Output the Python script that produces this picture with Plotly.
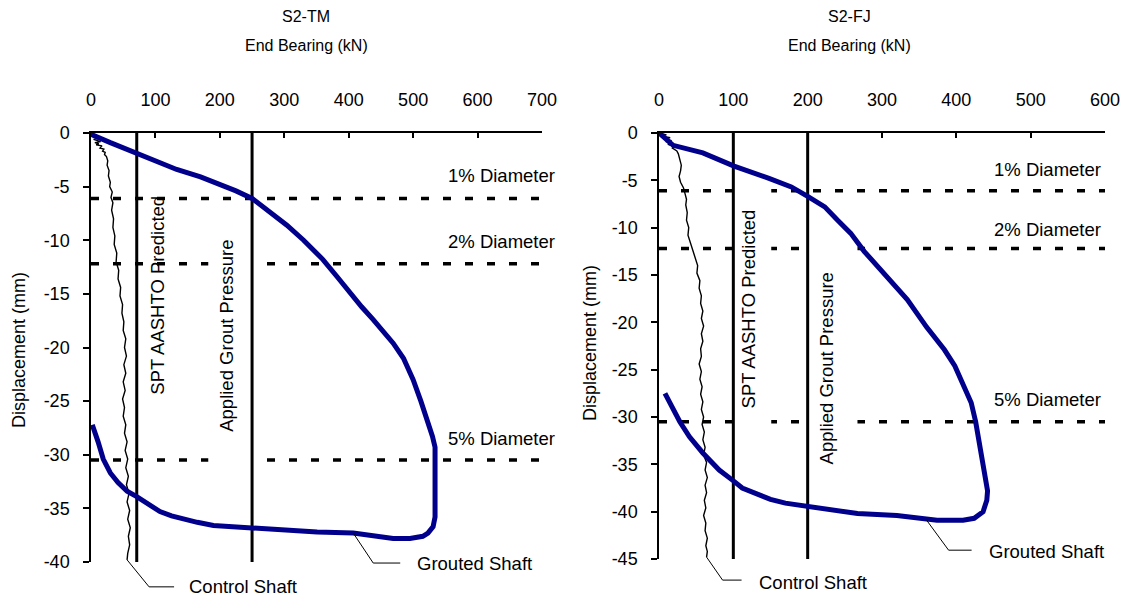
import plotly.graph_objects as go

# ---------------- data ----------------
# S2-TM (left)
tm_grout_x = [0, 3, 30, 71, 100, 133, 170, 200, 225, 250, 275, 304, 330, 360, 382, 402, 420, 438, 455, 469,
              485, 500, 512, 521, 530, 534, 534, 534, 531, 523, 515, 495, 469, 440, 407, 351, 300, 278, 250,
              220, 190, 165, 143, 125, 107, 90, 71, 56, 42, 30, 19, 11, 6, 2]
tm_grout_y = [0, -0.2, -0.9, -1.9, -2.6, -3.4, -4.1, -4.8, -5.4, -6.1, -7.3, -8.6, -10.0, -11.8, -13.4, -14.9,
              -16.2, -17.4, -18.6, -19.6, -21.0, -23.0, -25.0, -26.6, -28.3, -29.3, -32.0, -35.8, -36.7, -37.3,
              -37.6, -37.8, -37.8, -37.6, -37.3, -37.2, -37.0, -36.9, -36.8, -36.7, -36.6, -36.3, -36.0, -35.7,
              -35.3, -34.6, -33.9, -33.4, -32.6, -31.7, -30.4, -28.8, -27.9, -27.2]
tm_ctrl_x = [0, 9, 2, 13, 4, 15, 6, 12, 8, 17, 14, 20, 18, 22, 21, 24, 26, 25, 28, 27, 30, 29, 33, 31, 34, 32,
             35, 34, 37, 36, 40, 39, 43, 42, 46, 45, 49, 48, 51, 50, 54, 52, 55, 51, 54, 50, 53, 49, 52, 50, 54,
             52, 56, 53, 57, 54, 58, 55, 59, 56, 60, 57, 61, 58, 60, 57, 56]
tm_ctrl_y = [0, -0.2, -0.3, -0.5, -0.6, -0.8, -0.9, -1.0, -1.1, -1.2, -1.4, -1.5, -1.7, -1.8, -2.0, -2.2, -2.6,
             -3.0, -3.5, -4.0, -4.6, -5.0, -5.5, -6.0, -6.5, -7.2, -8.0, -8.8, -9.6, -10.4, -11.2, -12.0, -12.8,
             -13.6, -14.4, -15.2, -16.0, -16.8, -17.6, -18.4, -19.2, -20.0, -20.8, -21.6, -22.4, -23.2, -24.0,
             -24.8, -25.6, -26.4, -27.2, -28.0, -28.8, -29.6, -30.4, -31.2, -32.0, -32.8, -33.6, -34.4, -35.2,
             -36.0, -36.8, -37.6, -38.4, -39.2, -39.8]
tm_spt = 71          # SPT AASHTO predicted (kN)
tm_grout_p = 250     # applied grout pressure (kN)

# S2-FJ (right)
fj_grout_x = [0, 19, 59, 101, 148, 178, 200, 223, 240, 258, 276, 303, 334, 360, 384, 398, 409, 420, 426, 430,
              434, 438, 442, 441, 436, 424, 409, 374, 340, 320, 267, 231, 200, 170, 150, 134, 112, 101, 81, 59,
              41, 28, 15, 8]
fj_grout_y = [0, -1.3, -2.1, -3.5, -4.8, -5.7, -6.7, -7.8, -9.2, -10.6, -12.5, -14.8, -17.6, -20.5, -22.9,
              -24.6, -26.6, -28.5, -30.5, -32.5, -34.5, -36.3, -37.8, -38.8, -40.0, -40.7, -40.9, -40.9, -40.6,
              -40.4, -40.2, -39.8, -39.5, -39.1, -38.7, -38.2, -37.5, -36.8, -35.6, -33.8, -32.1, -30.5, -28.5,
              -27.5]
fj_ctrl_x = [0, 10, 3, 15, 6, 17, 9, 16, 12, 20, 18, 24, 26, 28, 30, 29, 27, 29, 33, 35, 37, 36, 38, 37, 40, 39,
             42, 46, 48, 52, 51, 55, 54, 57, 56, 59, 57, 60, 57, 59, 56, 57, 54, 57, 55, 58, 56, 59, 57, 60, 58,
             61, 59, 62, 60, 64, 62, 65, 62, 64, 61, 63, 60, 63, 62, 65, 63, 65, 64]
fj_ctrl_y = [0, -0.2, -0.3, -0.5, -0.6, -0.8, -0.9, -1.0, -1.2, -1.4, -1.6, -1.9, -2.2, -2.8, -3.4, -4.0, -4.6,
             -5.2, -5.8, -6.4, -7.0, -7.6, -8.4, -9.2, -10.0, -10.8, -11.6, -12.4, -13.2, -14.0, -14.8, -15.6,
             -16.4, -17.2, -18.0, -18.8, -19.6, -20.4, -21.2, -22.0, -22.8, -23.6, -24.4, -25.2, -26.0, -26.8,
             -27.6, -28.4, -29.2, -30.0, -30.8, -31.6, -32.4, -33.2, -34.0, -34.8, -35.6, -36.4, -37.2, -38.0,
             -38.8, -39.6, -40.4, -41.2, -42.0, -42.8, -43.6, -44.2, -44.8]
fj_spt = 100
fj_grout_p = 200

# diameter-percentage displacement levels (mm)
pct_labels = ["1% Diameter", "2% Diameter", "5% Diameter"]
pct_levels = [-6.1, -12.2, -30.5]

# axes
tm_xticks = [0, 100, 200, 300, 400, 500, 600, 700]
fj_xticks = [0, 100, 200, 300, 400, 500, 600]
tm_yticks = [0, -5, -10, -15, -20, -25, -30, -35, -40]
fj_yticks = [0, -5, -10, -15, -20, -25, -30, -35, -40, -45]
titles = ["S2-TM", "S2-FJ"]
x_title = "End Bearing (kN)"
y_title = "Displacement (mm)"

# ---------------- figure ----------------
OFF = 8                      # page body margin of the exported html
W, H = 1129 - 2 * OFF, 604 - 2 * OFF   # keep the page free of scrollbars
FONT = "Liberation Sans, Arial, sans-serif"
BLUE = "#00008C"


def px_x(p):                 # screen pixel -> paper x
    return (p - OFF) / W


def px_y(p):                 # screen pixel -> paper y
    return 1 - (p - OFF) / H


DOM = {
    "x": [px_x(91), px_x(542)], "y": [px_y(562), px_y(133)],
    "x2": [px_x(659), px_x(1105)], "y2": [px_y(559), px_y(133)],
}
RNG = {"x": [0, 700], "y": [-40, 0], "x2": [0, 600], "y2": [-45, 0]}


def to_paper(ax, v):
    d, r = DOM[ax], RNG[ax]
    return d[0] + (v - r[0]) / (r[1] - r[0]) * (d[1] - d[0])


fig = go.Figure()

panels = [
    dict(xa="x", ya="y", gx=tm_grout_x, gy=tm_grout_y, cx=tm_ctrl_x, cy=tm_ctrl_y, spt=tm_spt,
         gp=tm_grout_p),
    dict(xa="x2", ya="y2", gx=fj_grout_x, gy=fj_grout_y, cx=fj_ctrl_x, cy=fj_ctrl_y, spt=fj_spt,
         gp=fj_grout_p),
]

shapes = []
annotations = []

for p in panels:
    xmax = RNG[p["xa"]][1]
    ymin = RNG[p["ya"]][0]
    for v in (p["spt"], p["gp"]):
        fig.add_trace(go.Scatter(x=[v, v], y=[0, ymin], mode="lines", xaxis=p["xa"], yaxis=p["ya"],
                                 line=dict(color="black", width=3), hoverinfo="skip"))
    fig.add_trace(go.Scatter(x=p["cx"], y=p["cy"], mode="lines", xaxis=p["xa"], yaxis=p["ya"],
                             line=dict(color="black", width=1.4), name="Control Shaft"))
    fig.add_trace(go.Scatter(x=p["gx"], y=p["gy"], mode="lines", xaxis=p["xa"], yaxis=p["ya"],
                             line=dict(color=BLUE, width=5), name="Grouted Shaft"))
    for lv in pct_levels:
        shapes.append(dict(type="line", xref=p["xa"], yref=p["ya"], x0=0, x1=xmax, y0=lv, y1=lv,
                           layer="below", line=dict(color="black", width=3.5, dash="8px,14px")))

# white label backgrounds (break the dashed lines behind the rotated labels)
label_boxes = [
    dict(xref="x", yref="y", x0=182, x1=273, y0=-7.6, y1=-31.4),
    dict(xref="x2", yref="y2", x0=104, x1=151, y0=-5.0, y1=-31.4),
    dict(xref="x2", yref="y2", x0=203, x1=267, y0=-7.1, y1=-36.6),
]
for b in label_boxes:
    shapes.append(dict(type="rect", layer="below", fillcolor="white", line=dict(width=0), **b))

# percent labels
for xa, ya, xs, ysh in [("x", "y", 15, [23, 22, 22]), ("x2", "y2", -2, [21, 19, 22])]:
    for lab, lv, s in zip(pct_labels, pct_levels, ysh):
        annotations.append(dict(x=RNG[xa][1], y=lv, xref=xa, yref=ya, text=lab, showarrow=False,
                                xanchor="right", yanchor="middle", xshift=xs, yshift=s,
                                font=dict(size=18.5, family=FONT)))

# rotated reference-line labels
rot = [
    ("x", "y", tm_spt, 21, -15.1, "SPT AASHTO Predicted"),
    ("x", "y", tm_grout_p, -25, -18.9, "Applied Grout Pressure"),
    ("x2", "y2", fj_spt, 15, -18.6, "SPT AASHTO Predicted"),
    ("x2", "y2", fj_grout_p, 19, -24.9, "Applied Grout Pressure"),
]
for xa, ya, xv, xs, yv, txt in rot:
    annotations.append(dict(x=xv, y=yv, xref=xa, yref=ya, text=txt, showarrow=False, textangle=-90,
                            xshift=xs, xanchor="center", yanchor="middle", font=dict(size=18.5, family=FONT)))

# leader lines + series labels (drawn in paper space so they are not clipped)
leaders = [
    ("x", "y", tm_ctrl_x[-1], tm_ctrl_y[-1], "M0,0 L22,-27 L47,-27", 60, -27, "Control Shaft"),
    ("x", "y", 407, -37.3, "M0,0 L20,-30 L47,-30", 62, -30, "Grouted Shaft"),
    ("x2", "y2", fj_ctrl_x[-1], fj_ctrl_y[-1], "M0,0 L16,-23 L35,-23", 50, -25, "Control Shaft"),
    ("x2", "y2", 360, -40.9, "M0,0 L22,-30 L45,-30", 60, -31, "Grouted Shaft"),
]
for xa, ya, xv, yv, path, xs, ys, txt in leaders:
    px, py = to_paper(xa, xv), to_paper(ya, yv)
    shapes.append(dict(type="path", xref="paper", yref="paper", xsizemode="pixel", ysizemode="pixel",
                       xanchor=px, yanchor=py, path=path, line=dict(color="black", width=1)))
    annotations.append(dict(x=px, y=py, xref="paper", yref="paper", text=txt, showarrow=False,
                            xanchor="left", yanchor="middle", xshift=xs, yshift=ys,
                            font=dict(size=18.5, family=FONT)))

# titles
for xc, t in [(px_x(306), titles[0]), (px_x(849), titles[1])]:
    annotations.append(dict(x=xc, y=px_y(17), xref="paper", yref="paper", text=t, showarrow=False,
                            xanchor="center", yanchor="middle", font=dict(size=16, family=FONT)))
    annotations.append(dict(x=xc, y=px_y(46), xref="paper", yref="paper", text=x_title, showarrow=False,
                            xanchor="center", yanchor="middle", font=dict(size=16, family=FONT)))
for xc, yc in [(px_x(19), px_y(350)), (px_x(590), px_y(343))]:
    annotations.append(dict(x=xc, y=yc, xref="paper", yref="paper", text=y_title, showarrow=False,
                            textangle=-90, xanchor="center", yanchor="middle", font=dict(size=18, family=FONT)))

xcommon = dict(side="top", showline=True, linecolor="black", linewidth=1.5, ticks="inside", ticklen=5,
               tickwidth=1.5, tickcolor="black", showgrid=False, zeroline=False, ticklabelstandoff=18,
               automargin=False, tickfont=dict(size=18, family=FONT))
ycommon = dict(showline=True, linecolor="black", linewidth=1.5, ticks="outside", ticklen=6, tickwidth=1.5,
               tickcolor="black", showgrid=False, zeroline=False, ticklabelstandoff=10, automargin=False,
               tickfont=dict(size=18, family=FONT))

fig.update_layout(
    width=W, height=H, margin=dict(l=0, r=0, t=0, b=0, pad=0),
    paper_bgcolor="white", plot_bgcolor="white", showlegend=False,
    font=dict(family=FONT, color="black", size=18),
    xaxis=dict(domain=DOM["x"], range=RNG["x"], anchor="y", tickvals=tm_xticks,
               ticktext=[str(v) for v in tm_xticks], **xcommon),
    yaxis=dict(domain=DOM["y"], range=RNG["y"], anchor="x", tickvals=tm_yticks,
               ticktext=[str(v) for v in tm_yticks], **ycommon),
    xaxis2=dict(domain=DOM["x2"], range=RNG["x2"], anchor="y2", tickvals=fj_xticks,
                ticktext=[str(v) for v in fj_xticks], **xcommon),
    yaxis2=dict(domain=DOM["y2"], range=RNG["y2"], anchor="x2", tickvals=fj_yticks,
                ticktext=[str(v) for v in fj_yticks], **ycommon),
    shapes=shapes, annotations=annotations,
)

fig.write_html("out.html")
